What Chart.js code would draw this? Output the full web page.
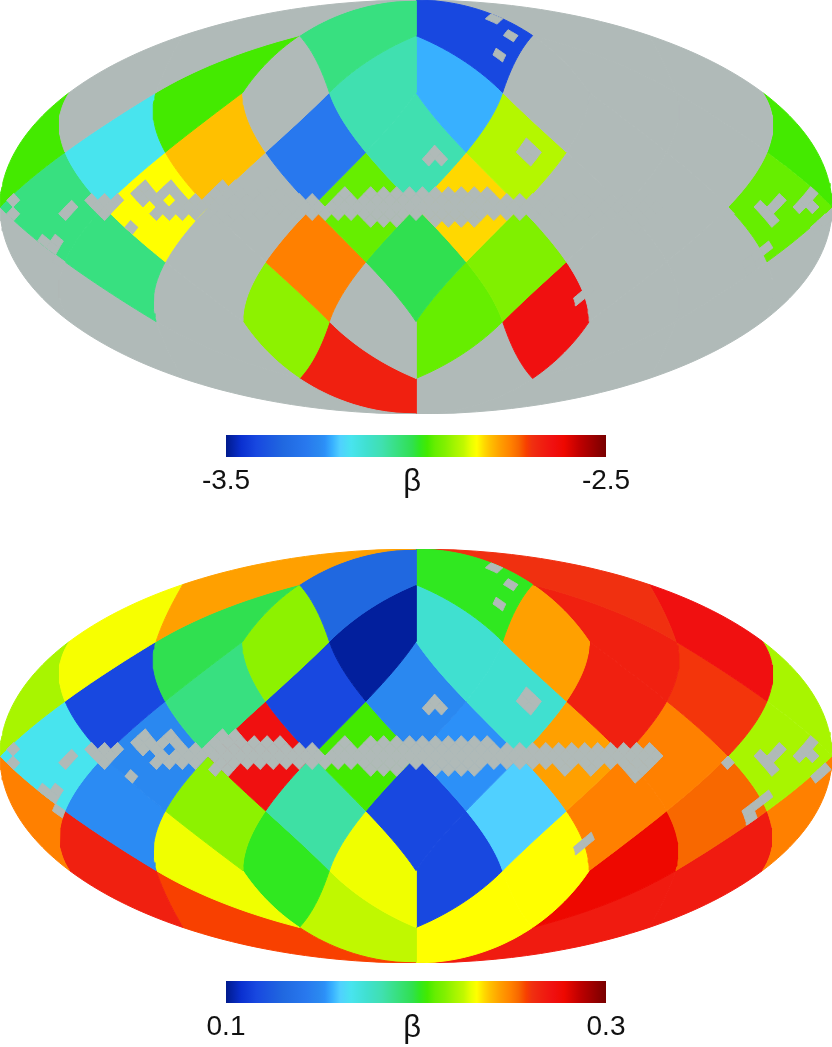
<!DOCTYPE html>
<html>
<head>
<meta charset="utf-8">
<title>beta maps</title>
<script src="https://cdn.jsdelivr.net/npm/chart.js@4/dist/chart.umd.min.js"></script>
<style>
body { margin: 0; background: #fff; }
canvas { position: absolute; left: 0; }
</style>
</head>
<body>
<canvas id="mapTop" width="832" height="414" style="top:0"></canvas>
<canvas id="barTop" width="832" height="73" style="top:425px"></canvas>
<canvas id="mapBottom" width="832" height="414" style="top:549px"></canvas>
<canvas id="barBottom" width="832" height="73" style="top:971px"></canvas>
<script>
// coarse cells (nside 2): row position and screen columns, left to right
const ringRows = [3, 2, 1, 0, -1, -2, -3];
const ringCols = [
    [-6, -2, 2, 6],
    [-7, -5, -3, -1, 1, 3, 5, 7],
    [-8, -6, -4, -2, 0, 2, 4, 6, 8],
    [-7, -5, -3, -1, 1, 3, 5, 7],
    [-8, -6, -4, -2, 0, 2, 4, 6, 8],
    [-7, -5, -3, -1, 1, 3, 5, 7],
    [-6, -2, 2, 6]
];

// upper map, one array per ring, null = no measurement
const topRing1 = [null, -3.05, -3.42, null];
const topRing2 = [null, -2.97, null, -3.09, -3.22, null, null, null];
const topRing3 = [-2.97, -3.17, -2.805, -3.29, -3.09, -2.885, null, null, -2.97];
const topRing4 = [-3.05, -2.84, null, -2.95, -2.82, null, null, -2.95];
const topRing5 = [null, -3.05, null, -2.75, -3.01, -2.925, null, null, null];
const topRing6 = [null, null, -2.915, null, -2.95, -2.64, null, null];
const topRing7 = [null, -2.67, null, null];

// lower map
const bottomRing1 = [0.244, 0.13, 0.202, 0.261];
const bottomRing2 = [0.231, 0.198, 0.217, 0.102, 0.174, 0.244, 0.266, 0.272];
const bottomRing3 = [0.221, 0.116, 0.19, 0.116, 0.149, 0.174, 0.266, 0.26, 0.221];
const bottomRing4 = [0.166, 0.149, 0.272, 0.206, 0.152, 0.244, 0.25, 0.221];
const bottomRing5 = [0.25, 0.15, 0.217, 0.184, 0.116, 0.16, 0.25, 0.254, 0.25];
const bottomRing6 = [0.266, 0.23, 0.202, 0.23, 0.116, 0.232, 0.278, 0.268];
const bottomRing7 = [0.258, 0.225, 0.232, 0.268];

// masked fine cells (nside 16), row then columns, same in both maps
const maskRows = [27, 24, 21, 9, 8, 7, 3, 2, 1, 0, -1, -2, -3, -5, -6, -7, -8, -9, -12, -13];
const maskCols = [
    [20], [21], [18], [18], [3, 17, 19], [2, 4, 18],
    [-42, -38, -30, -28],
    [-43, -41, -39, -37, -31, -29, -27, -25, -23, -21, -11, -7, -5, -3, -1, 1, 3, 5, 7, 9, 11, 61],
    [-62, -50, -48, -46, -42, -40, -36, -34, -32, -30, -28, -26, -24, -22, -20, -18, -16, -12, -10, -8, -6, -4, -2, 0, 2, 4, 6, 8, 10, 12, 14, 16, 18, 20, 22, 24, 26, 28, 30, 32, 34, 36, 56, 60],
    [-53, -49, -47, -39, -37, -35, -33, -31, -29, -27, -25, -23, -21, -19, -17, -15, -13, -11, -9, -7, -5, -3, -1, 1, 3, 5, 7, 9, 11, 13, 15, 17, 19, 21, 23, 25, 27, 29, 31, 33, 35, 37, 53, 55, 59, 61],
    [-62, -54, -48, -40, -38, -36, -34, -30, -28, -26, -24, -22, -20, -18, -16, -14, -12, -10, -8, -6, -4, -2, 0, 2, 4, 6, 8, 10, 12, 14, 16, 18, 20, 22, 24, 26, 28, 30, 32, 34, 36, 48, 54],
    [-31, -29, -7, -5, -3, 3, 5, 7, 9, 23, 27, 33, 35, 55, 63],
    [-44, 34, 62],
    [-58, -56], [-57, 55], [54], [-57, 53], [54], [29], [28]
];

// colour scale, position along the bar
const scalePos = [0, 0.04, 0.08, 0.15, 0.21, 0.245, 0.26, 0.28, 0.30, 0.33, 0.37, 0.41, 0.45, 0.49, 0.51, 0.53, 0.55, 0.575, 0.605, 0.625, 0.645, 0.66, 0.68, 0.695, 0.72, 0.75, 0.77, 0.79, 0.805, 0.83, 0.86, 0.89, 0.93, 1];
const scaleHex = ['#001a8c', '#0a30d0', '#1848e0', '#2068e0', '#2878ee', '#2a88f0', '#2c90f8', '#38b0ff', '#50d0ff', '#48e4ee', '#40e0d0', '#40e0b0', '#38e080', '#30e050', '#30e820', '#44ea00', '#66ee00', '#80f000', '#a8f500', '#c0f800', '#e8ff00', '#ffff00', '#ffd800', '#ffc000', '#ffa000', '#ff8000', '#f86800', '#f84000', '#f03010', '#f02010', '#f01010', '#ee0800', '#c00000', '#780000'];
const maskColor = '#b0bab8';

function hexParts(h) {
    return [parseInt(h.substr(1, 2), 16), parseInt(h.substr(3, 2), 16), parseInt(h.substr(5, 2), 16)];
}

function colorFor(t) {
    for (let i = 1; i < scalePos.length; i++) {
        if (t <= scalePos[i]) {
            const f = (t - scalePos[i - 1]) / (scalePos[i] - scalePos[i - 1]);
            const a = hexParts(scaleHex[i - 1]);
            const b = hexParts(scaleHex[i]);
            return 'rgb(' + a.map((v, k) => Math.round(v + (b[k] - v) * f)).join(',') + ')';
        }
    }
    return scaleHex[scaleHex.length - 1];
}

// healpix projection plane to mollweide
function toMollweide(xs, ys) {
    const pi = Math.PI;
    const lim = pi / 2 - 1e-6;
    xs = Math.max(-pi, Math.min(pi, xs));
    ys = Math.max(-lim, Math.min(lim, ys));
    const ay = Math.abs(ys);
    let lon = xs;
    let z = 8 * ys / (3 * pi);
    if (ay > pi / 4) {
        const xt = ((xs % (pi / 2)) + pi / 2) % (pi / 2);
        lon = xs - (ay - pi / 4) / (ay - pi / 2) * (xt - pi / 4);
        const s = 2 - 4 * ay / pi;
        z = Math.sign(ys) * (1 - s * s / 3);
    }
    let th = Math.asin(z) * 0.7;
    for (let i = 0; i < 40; i++) {
        th -= (2 * th + Math.sin(2 * th) - pi * z) / (2 + 2 * Math.cos(2 * th) + 1e-9);
    }
    return { x: 2 * Math.SQRT2 / pi * lon * Math.cos(th), y: Math.SQRT2 * Math.sin(th) };
}

// diamond outline, unit = half diagonal of the cell
function cellOutline(col, row, unit, steps) {
    const corners = [[0, 1], [1, 0], [0, -1], [-1, 0], [0, 1]];
    const pts = [];
    for (let c = 0; c < 4; c++) {
        for (let s = 0; s < steps; s++) {
            const f = s / steps;
            const dx = corners[c][0] + (corners[c + 1][0] - corners[c][0]) * f;
            const dy = corners[c][1] + (corners[c + 1][1] - corners[c][1]) * f;
            pts.push(toMollweide((col + dx) * unit, (row + dy) * unit));
        }
    }
    pts.push(pts[0]);
    return pts;
}

function cellDataset(pts, color) {
    return {
        data: pts,
        showLine: true,
        fill: 'shape',
        backgroundColor: color,
        borderColor: color,
        borderWidth: 1,
        pointRadius: 0,
        tension: 0
    };
}

function drawMap(id, rings, low, high) {
    const datasets = [];
    maskRows.forEach(function (row, r) {
        maskCols[r].forEach(function (col) {
            datasets.push(cellDataset(cellOutline(col, row, Math.PI / 64, 3), maskColor));
        });
    });
    ringRows.forEach(function (row, r) {
        ringCols[r].forEach(function (col, c) {
            const v = rings[r][c];
            const color = v === null ? maskColor : colorFor((v - low) / (high - low));
            datasets.push(cellDataset(cellOutline(col, row, Math.PI / 8, 16), color));
        });
    });
    new Chart(id, {
        type: 'scatter',
        data: { datasets: datasets },
        options: {
            responsive: false,
            animation: false,
            parsing: false,
            events: [],
            layout: { padding: 0 },
            plugins: { legend: { display: false }, tooltip: { enabled: false } },
            scales: {
                x: { type: 'linear', display: false, min: -2 * Math.SQRT2, max: 2 * Math.SQRT2 },
                y: { type: 'linear', display: false, min: -Math.SQRT2, max: Math.SQRT2 }
            }
        }
    });
}

function drawBar(id, low, high, labels) {
    new Chart(id, {
        type: 'bar',
        data: {
            labels: ['beta'],
            datasets: [{
                data: [[low, high]],
                barPercentage: 1,
                categoryPercentage: 1,
                backgroundColor: function (ctx) {
                    const area = ctx.chart.chartArea;
                    if (!area) return '#000';
                    const g = ctx.chart.ctx.createLinearGradient(area.left, 0, area.right, 0);
                    scalePos.forEach(function (p, i) { g.addColorStop(p, scaleHex[i]); });
                    return g;
                }
            }]
        },
        options: {
            indexAxis: 'y',
            responsive: false,
            animation: false,
            events: [],
            layout: { padding: { left: 226, right: 226, top: 10, bottom: 0 } },
            plugins: { legend: { display: false }, tooltip: { enabled: false } },
            scales: {
                y: { display: false },
                x: {
                    type: 'linear',
                    min: low,
                    max: high,
                    grid: { display: false, drawTicks: false },
                    border: { display: false },
                    afterBuildTicks: function (axis) {
                        // the symbol sits a little left of the bar centre
                        axis.ticks = [{ value: low }, { value: low + (high - low) * 0.49 }, { value: high }];
                    },
                    afterFit: function (axis) { axis.height = 41; },
                    ticks: {
                        autoSkip: false,
                        maxRotation: 0,
                        padding: 7,
                        color: '#111',
                        font: function (ctx) {
                            return { family: '"Liberation Sans"', size: ctx.index === 1 ? 31 : 28 };
                        },
                        callback: function (value, i) { return labels[i]; }
                    }
                }
            }
        }
    });
}

const topRings = [topRing1, topRing2, topRing3, topRing4, topRing5, topRing6, topRing7];
const bottomRings = [bottomRing1, bottomRing2, bottomRing3, bottomRing4, bottomRing5, bottomRing6, bottomRing7];

drawMap('mapTop', topRings, -3.5, -2.5);
drawMap('mapBottom', bottomRings, 0.1, 0.3);
drawBar('barTop', -3.5, -2.5, ['-3.5', '\u03b2', '-2.5']);
drawBar('barBottom', 0.1, 0.3, ['0.1', '\u03b2', '0.3']);
</script>
</body>
</html>
